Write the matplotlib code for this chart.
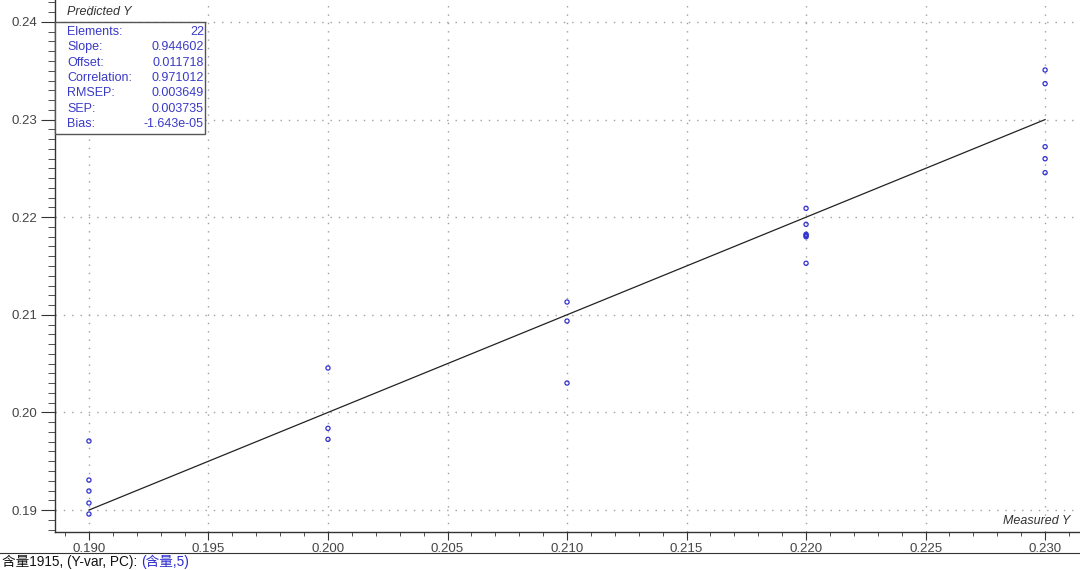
import matplotlib.pyplot as plt
from matplotlib.ticker import MultipleLocator, FormatStrFormatter
from matplotlib.patches import Rectangle

# measured vs predicted values
measured = [0.19] * 5 + [0.20] * 3 + [0.21] * 3 + [0.22] * 6 + [0.23] * 5
predicted = [0.19707, 0.19307, 0.19195, 0.19072, 0.18959,
             0.20455, 0.19837, 0.19724,
             0.21131, 0.20936, 0.20301,
             0.22091, 0.21927, 0.21825, 0.21812, 0.21800, 0.21528,
             0.23508, 0.23368, 0.22722, 0.22599, 0.22456]
target_x = [0.19, 0.23]
target_y = [0.19, 0.23]

stat_names = ["Elements:", "Slope:", "Offset:", "Correlation:", "RMSEP:", "SEP:", "Bias:"]
stat_values = ["22", "0.944602", "0.011718", "0.971012", "0.003649", "0.003735", "-1.643e-05"]

W, H = 1080, 570
fonts = ['Liberation Sans', 'Noto Sans CJK SC', 'DejaVu Sans']
plt.rcParams['font.family'] = fonts

fig = plt.figure(figsize=(W / 100, H / 100), dpi=100)
ax = fig.add_axes([55 / W, (H - 532) / H, 1 - 55 / W, 532 / H])

ax.plot(target_x, target_y, color='#222222', lw=0.9, zorder=2)
ax.scatter(measured, predicted, s=9, facecolors='none', edgecolors='#3030d0',
           linewidths=0.9, zorder=3)

ax.set_xlim(0.18858, 0.23146)
ax.set_ylim(0.18775, 0.24225)

ax.xaxis.set_major_locator(MultipleLocator(0.005))
ax.xaxis.set_minor_locator(MultipleLocator(0.001))
ax.yaxis.set_major_locator(MultipleLocator(0.01))
ax.yaxis.set_minor_locator(MultipleLocator(0.001))
ax.xaxis.set_major_formatter(FormatStrFormatter('%.3f'))
ax.yaxis.set_major_formatter(FormatStrFormatter('%.2f'))

ax.grid(True, which='major', color='#a0a0a0', linestyle=(0, (1, 5)), lw=1)
for s in ['top', 'right']:
    ax.spines[s].set_visible(False)
for s in ['left', 'bottom']:
    ax.spines[s].set_color('#333333')
    ax.spines[s].set_linewidth(1)

ax.tick_params(axis='y', which='major', length=10, color='#333333', labelsize=9.5,
               labelcolor='#444444', pad=3)
ax.tick_params(axis='y', which='minor', length=5, color='#333333')
ax.tick_params(axis='x', which='major', length=6, color='#333333', labelsize=9.5,
               labelcolor='#444444', pad=2)
ax.tick_params(axis='x', which='minor', length=3, color='#333333')

# stats box
def px(x, y):
    return x / W, 1 - y / H

bx, by = px(55, 134)
fig.patches.append(Rectangle((bx, by), 150 / W, 112 / H, transform=fig.transFigure,
                             facecolor='white', edgecolor='#555555', lw=1, zorder=5))
for i, (n, v) in enumerate(zip(stat_names, stat_values)):
    yy = 32 + i * 15.3
    fig.text(*px(67, yy), n, color='#3a3ac8', fontsize=9, va='center', ha='left', zorder=6)
    fig.text(*px(204, yy), v, color='#3a3ac8', fontsize=9, va='center', ha='right', zorder=6)

fig.text(*px(67, 12), "Predicted Y", fontsize=9, style='italic', color='#333333',
         va='center', ha='left')
fig.text(*px(1070, 521), "Measured Y", fontsize=9, style='italic', color='#333333',
         va='center', ha='right')

# status line at the bottom
fig.add_artist(plt.Line2D([0, 1], [1 - 553 / H] * 2, color='#333333', lw=0.8,
                          transform=fig.transFigure))
t1 = fig.text(*px(2, 562), "含量1915, (Y-var, PC): ", fontsize=9.8, color='#111111',
              va='center', ha='left')
fig.canvas.draw()
bb = t1.get_window_extent()
fig.text(bb.x1 / W, 1 - 562 / H, "(含量,5)", fontsize=9.8, color='#2a2ad0',
         va='center', ha='left')

fig.savefig('out.png', dpi=100)
